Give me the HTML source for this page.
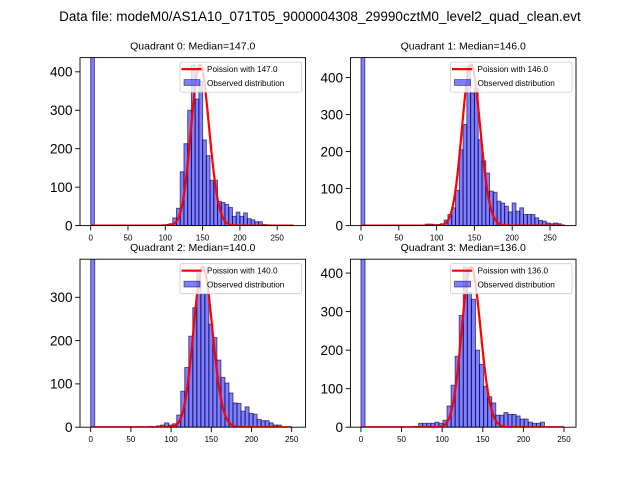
<!DOCTYPE html>
<html><head><meta charset="utf-8"><style>
html,body{margin:0;padding:0;background:#fff;}
svg{display:block;font-family:"Liberation Sans",sans-serif;}
</style></head><body>
<svg id="fig" width="640" height="480" viewBox="0 0 640 480">
<text x="320" y="21" text-anchor="middle" font-size="13.5">Data file: modeM0/AS1A10_071T05_9000004308_29990cztM0_level2_quad_clean.evt</text>
</svg>
<script>
// ---- data ----
const titles = ["Quadrant 0: Median=147.0","Quadrant 1: Median=146.0","Quadrant 2: Median=140.0","Quadrant 3: Median=136.0"];
const medians = [147.0, 146.0, 140.0, 136.0];
const poissonPeak = [418, 435, 370, 416];
const curveMax = [272, 270, 250, 250];
const binWidth = [5, 5, 5, 5];
const bins0 = [0,70,75,80,85,90,95,100,105,110,115,120,125,130,135,140,145,150,155,160,165,170,175,180,185,190,195,200,205,210,215,220,225,230,235,240];
const counts0 = [900,1,1,1,1,1,2,3,5,20,45,140,213,300,418,329,375,223,182,118,118,63,60,55,47,24,35,24,33,18,15,10,10,3,2,1];
const bins1 = [0,85,90,95,100,105,110,115,120,125,130,135,140,145,150,155,160,165,170,175,180,185,190,195,200,205,210,215,220,225,230,235,240,245,250,255,260];
const counts1 = [900,4,4,3,3,5,15,30,48,95,205,273,430,358,372,232,175,142,93,90,66,61,52,37,61,39,48,30,30,30,21,14,12,7,5,7,5];
const bins2 = [0,72,82,87,92,97,102,107,112,117,122,127,132,137,142,147,152,157,162,167,172,177,182,187,192,197,202,207,212,217,222,227,232];
const counts2 = [900,2,3,5,10,5,8,28,83,138,210,276,362,308,308,238,207,155,115,102,79,56,55,37,47,32,30,18,15,15,10,5,5];
const bins3 = [0,66,71,76,81,86,91,96,101,106,111,116,121,126,131,136,141,146,151,156,161,166,171,176,181,186,191,196,201,206,211,216,221];
const counts3 = [900,2,10,10,10,10,13,10,18,55,109,184,290,416,350,332,200,163,106,79,63,31,31,38,33,33,29,21,21,13,10,10,13];
const yTicks0 = [0,100,200,300,400];
const yTicks1 = [0,100,200,300,400];
const yTicks2 = [0,100,200,300];
const yTicks3 = [0,100,200,300,400];
const xTicks = [0,50,100,150,200,250];
const xMin = [-14.3,-13.9,-13.3,-12.9];
const xMax = [287.9,284.4,267.2,264.8];
const yMax = [437,454,388,436];

const allBins=[bins0,bins1,bins2,bins3], allCounts=[counts0,counts1,counts2,counts3], allYT=[yTicks0,yTicks1,yTicks2,yTicks3];
const NS="http://www.w3.org/2000/svg";
const fig=document.getElementById('fig');
function mk(tag,attrs,parent){const e=document.createElementNS(NS,tag);for(const k in attrs)e.setAttribute(k,attrs[k]);(parent||fig).appendChild(e);return e;}
function lnFact(k){let s=0;for(let i=2;i<=k;i++)s+=Math.log(i);return s;}
function pmf(k,l){return Math.exp(k*Math.log(l)-l-lnFact(k));}

const boxes=[[80,57.6],[350.5,57.6],[80,259.2],[350.5,259.2]];
const W=225.5,H=168;
for(let p=0;p<4;p++){
  const [L,T]=boxes[p];
  const sx=v=>L+(v-xMin[p])/(xMax[p]-xMin[p])*W;
  const sy=v=>T+H-v/yMax[p]*H;
  const g=mk('g',{});
  
  
  const cp=mk('clipPath',{id:'cp'+p},g);
  mk('rect',{x:L,y:T,width:W,height:H},cp);
  const t=mk('text',{x:L+W/2,y:T-8,'text-anchor':'middle','font-size':'10.5'},g);
  t.textContent=titles[p];
  
  
  const bg=mk('g',{'clip-path':'url(#cp'+p+')'},g);
  const bins=allBins[p],cnt=allCounts[p];
  for(let i=0;i<bins.length;i++){
    const x0=sx(bins[i]),x1=sx(bins[i]+binWidth[p]);
    const r=mk('rect',{x:x0,y:sy(cnt[i]),width:x1-x0,height:sy(0)-sy(cnt[i]),fill:'rgba(0,0,255,0.5)',stroke:'rgba(0,0,60,0.6)','stroke-width':'1'},bg);
    
    
  }
  const lam=medians[p];const mode=Math.floor(lam);const sc=poissonPeak[p]/pmf(mode,lam);
  let d='';
  for(let k=0;k<=curveMax[p];k++){d+=(k?'L':'M')+sx(k).toFixed(2)+','+sy(pmf(k,lam)*sc).toFixed(2);}
  const c=mk('path',{d:d,fill:'none',stroke:'#ff0000','stroke-width':'2.2','stroke-linejoin':'round'},bg);
  
  
  mk('rect',{x:L,y:T,width:W,height:H,fill:'none',stroke:'#000','stroke-width':'0.9'},g);
  for(const v of allYT[p]){
    const y=sy(v);
    mk('line',{x1:L-4.9,x2:L,y1:y,y2:y,stroke:'#000','stroke-width':'0.9'},g);
    const tl=mk('text',{x:L-7.5,y:y+4.8,'text-anchor':'end','font-size':'13.5'},g);
    tl.textContent=v;
    
    
  }
  for(const v of xTicks){
    const x=sx(v);
    mk('line',{x1:x,x2:x,y1:T+H,y2:T+H+4.9,stroke:'#000','stroke-width':'0.9'},g);
    const tl=mk('text',{x:x,y:T+H+15,'text-anchor':'middle','font-size':'8'},g);
    tl.textContent=v;
    
    
  }
  const lg=mk('g',{},g);
  
  
  const lx=L+W-125.5, ly=T+4.5;
  mk('rect',{x:lx,y:ly,width:121.5,height:30,rx:2,fill:'rgba(255,255,255,0.8)',stroke:'#ccc','stroke-width':'0.8'},lg);
  mk('line',{x1:lx+1.5,x2:lx+21.5,y1:ly+7,y2:ly+7,stroke:'#ff0000','stroke-width':'2.2'},lg);
  const t1=mk('text',{x:lx+27,y:ly+10,'font-size':'8.2'},lg);t1.textContent='Poission with '+medians[p].toFixed(1);
  
  
  mk('rect',{x:lx+4,y:ly+17.5,width:16,height:5.8,fill:'rgba(0,0,255,0.5)',stroke:'rgba(0,0,60,0.6)','stroke-width':'0.8'},lg);
  const t2=mk('text',{x:lx+27,y:ly+24,'font-size':'8.2'},lg);t2.textContent='Observed distribution';
  
  
}
</script>
</body></html>
